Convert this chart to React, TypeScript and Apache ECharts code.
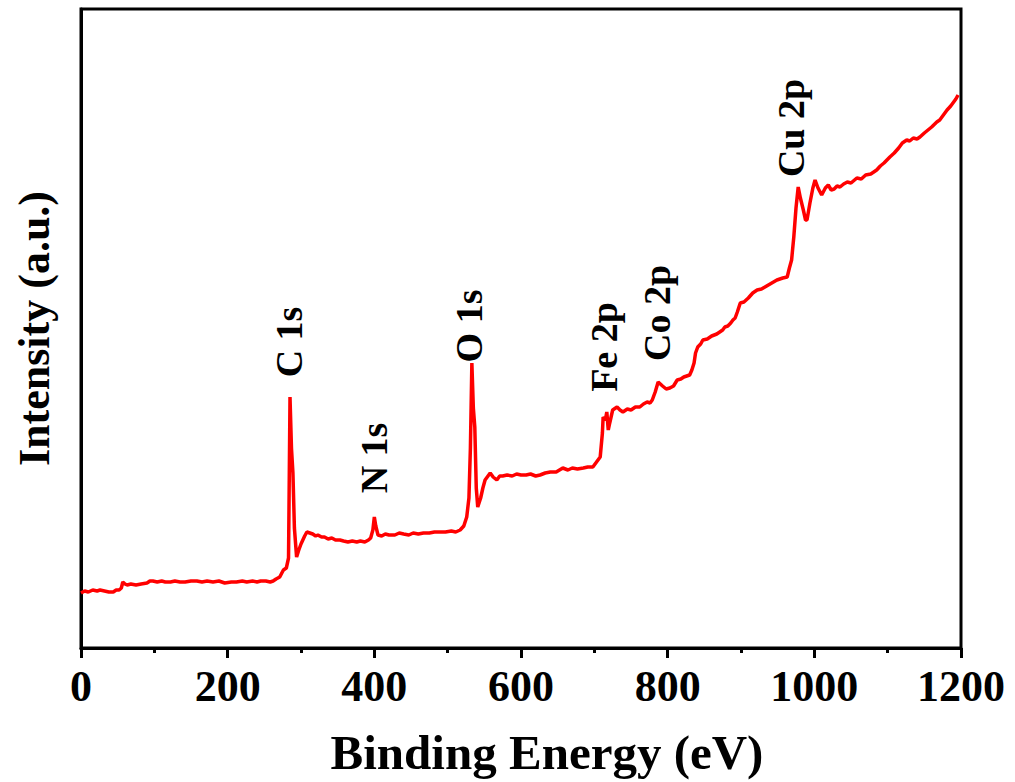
import React, { useEffect, useRef } from "react";
import * as echarts from "echarts";

// Binding energy (eV) and intensity (a.u., arbitrary scale)
const energy = [
  0, 5, 10, 16, 22, 26, 32, 38, 44, 48, 52, 55, 57, 60, 63, 68, 75, 82, 90, 94,
  98, 104, 110, 115, 122, 128, 135, 142, 150, 158, 165, 172, 180, 188, 196, 205,
  212, 220, 226, 234, 240, 245, 252, 258, 262, 266, 271, 276, 280, 283, 285, 287,
  289, 291, 294, 297, 300, 305, 308, 312, 316, 320, 323, 328, 332, 337, 342, 347,
  353, 358, 364, 370, 376, 381, 387, 392, 395, 398, 400, 402, 405, 410, 415, 420,
  428, 434, 440, 447, 453, 460, 467, 475, 482, 490, 497, 505, 511, 517, 522, 526,
  529, 531, 533, 535, 537, 539, 541, 545, 548, 551, 555, 558, 562, 567, 571, 575,
  581, 588, 594, 600, 607, 613, 620, 626, 633, 640, 648, 657, 664, 670, 677, 685,
  691, 698, 703, 708, 711, 712, 715, 717, 719, 721, 725, 731, 735, 739, 745, 750,
  756, 762, 767, 772, 776, 779, 783, 787, 790, 793, 798, 803, 808, 813, 818, 822,
  826, 830, 833, 836, 838, 841, 845, 848, 854, 860, 867, 875, 878, 882, 886, 889,
  892, 895, 899, 904, 910, 916, 922, 928, 935, 942, 949, 953, 957, 963, 966, 969,
  972, 975, 978, 981, 985, 988, 990, 994, 998, 1001, 1005, 1010, 1015, 1019, 1023,
  1027, 1031, 1035, 1040, 1045, 1050, 1058, 1064, 1070, 1077, 1085, 1090, 1095,
  1099, 1103, 1109, 1115, 1120, 1126, 1130, 1135, 1140, 1144, 1150, 1155, 1160,
  1167, 1171, 1175, 1178, 1181, 1186, 1190, 1193, 1196,
];
const intensity = [
  55, 57, 56, 58, 57, 58, 57, 56, 56, 58, 58, 60, 66, 64, 63, 64, 63, 64, 65, 67,
  67, 66, 67, 66, 66, 67, 66, 66, 67, 67, 66, 67, 66, 67, 65, 66,
  66, 67, 66, 67, 66, 67, 67, 66, 67, 69, 71, 78, 80, 90, 251, 200,
  175, 120, 91, 98, 104, 112, 116, 115, 114, 112, 113, 111, 111, 109, 110, 108,
  108, 107, 106, 107, 106, 107, 106, 108, 110, 118, 131, 122, 113, 112, 114, 113,
  113, 115, 114, 113, 115, 114, 115, 115, 116, 116, 116, 117, 116, 118, 122, 131,
  150, 200, 285, 240, 221, 160, 141, 150, 160, 168, 172, 175, 171, 168, 172, 172,
  173, 172, 174, 173, 173, 174, 172, 173, 175, 176, 176, 180, 178, 180, 179, 180,
  181, 181, 186, 191, 215, 231, 228, 236, 218, 225, 238, 241, 238, 236, 239, 238,
  241, 241, 244, 246, 245, 248, 256, 266, 264, 262, 259, 260, 262, 268, 269, 271,
  272, 273, 278, 285, 295, 301, 304, 308, 309, 312, 314, 318, 321, 322, 325, 328,
  330, 336, 345, 346, 350, 355, 358, 359, 362, 365, 368, 369, 370, 371, 380, 388,
  411, 440, 461, 450, 438, 428, 428, 445, 460, 468, 460, 453, 460, 463, 458,
  459, 462, 461, 464, 466, 465, 470, 469, 473, 474, 478, 482, 485,
  488, 491, 495, 500, 505, 508, 507, 510, 509, 511, 515, 518, 521,
  526, 528, 532, 535, 538, 542, 546, 549, 553,
];

const xTicks = { min: 0, max: 1200, interval: 200 };

// Peak annotations
const peakNames = ["C 1s", "N 1s", "O 1s", "Fe 2p", "Co 2p", "Cu 2p"];
const peakLabelPos = [
  [289, 342],
  [374, 458],
  [469, 326],
  [604, 347],
  [657, 313],
  [791, 128],
];

const FONT = "'Liberation Serif', 'Times New Roman', serif";

export default function App() {
  const ref = useRef<HTMLDivElement>(null);
  useEffect(() => {
    if (!ref.current) return;
    const chart = echarts.init(ref.current, null, { renderer: "svg" });
    const data = energy.map((e, i) => [e, intensity[i]]);
    chart.setOption({
      animation: false,
      backgroundColor: "#ffffff",
      grid: {
        left: 81,
        right: 54,
        top: 9,
        bottom: 134,
        show: true,
        borderColor: "#000",
        borderWidth: 3,
        containLabel: false,
      },
      xAxis: {
        type: "value",
        min: xTicks.min,
        max: xTicks.max,
        interval: xTicks.interval,
        name: "Binding Energy (eV)",
        nameLocation: "middle",
        nameGap: 80,
        nameTextStyle: {
          fontSize: 49,
          fontWeight: "bold",
          fontFamily: FONT,
          color: "#000",
          padding: [0, 0, 0, 52],
        },
        axisLine: { show: true, lineStyle: { color: "#000", width: 3 } },
        axisTick: { show: true, inside: false, length: 10, lineStyle: { color: "#000", width: 3 } },
        minorTick: { show: true, splitNumber: 2, length: 5, lineStyle: { color: "#000", width: 3 } },
        axisLabel: {
          fontSize: 44,
          fontWeight: "bold",
          fontFamily: FONT,
          color: "#000",
          margin: 16,
          formatter: (v: number) => String(v),
        },
        splitLine: { show: false },
        minorSplitLine: { show: false },
      },
      yAxis: {
        type: "value",
        min: 0,
        max: 639,
        name: "Intensity (a.u.)",
        nameLocation: "middle",
        nameGap: 25,
        nameTextStyle: {
          fontSize: 44,
          fontWeight: "bold",
          fontFamily: FONT,
          color: "#000",
        },
        axisLine: { show: true, lineStyle: { color: "#000", width: 3 } },
        axisTick: { show: false },
        axisLabel: { show: false },
        splitLine: { show: false },
      },
      series: [
        {
          type: "line",
          data,
          showSymbol: false,
          lineStyle: { color: "#ff0000", width: 3.5 },
          itemStyle: { color: "#ff0000" },
        },
      ],
      graphic: peakNames.map((t, i) => ({
        type: "text",
        x: peakLabelPos[i][0],
        y: peakLabelPos[i][1],
        rotation: Math.PI / 2,
        style: {
          text: t,
          fontSize: 38,
          fontWeight: "bold",
          fontFamily: FONT,
          fill: "#000",
          align: "center",
          verticalAlign: "middle",
        },
      })),
    });
    return () => chart.dispose();
  }, []);
  return (
    <div
      ref={ref}
      style={{ position: "fixed", left: 0, top: 0, width: 1015, height: 782, background: "#fff" }}
    />
  );
}
